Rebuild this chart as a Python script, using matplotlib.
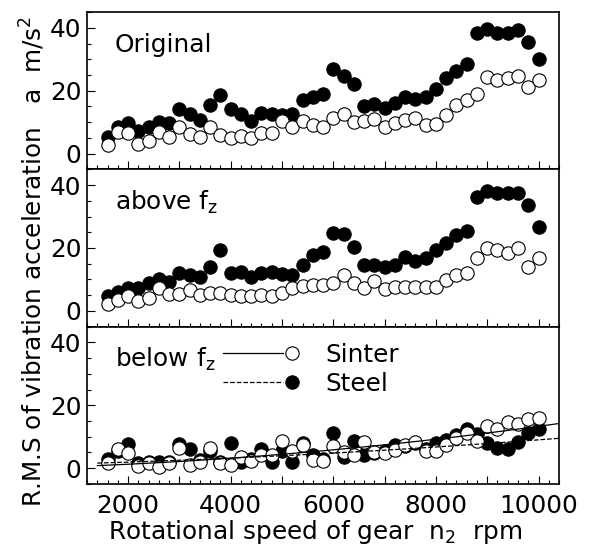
import numpy as np
import matplotlib.pyplot as plt
from matplotlib.ticker import MultipleLocator, FuncFormatter
from matplotlib.lines import Line2D
from matplotlib.legend_handler import HandlerTuple

plt.rcParams['font.family'] = ['DejaVu Sans']
plt.rcParams['mathtext.fontset'] = 'dejavusans'
plt.rcParams['font.size'] = 17.8

# rotational speed n2 [rpm], one point every 200 rpm
speed = np.arange(1600, 10001, 200)

# RMS vibration acceleration [m/s^2]
orig_sinter = [2.8, 6.8, 6.5, 2.9, 4.0, 6.8, 5.4, 8.4, 6.3, 5.2,
               8.6, 6.0, 5.0, 5.7, 5.0, 6.5, 6.5, 10.3, 8.4, 10.3,
               9.0, 8.4, 11.4, 12.7, 10.0, 10.3, 11.1, 8.6, 9.7, 10.8,
               11.4, 9.0, 9.3, 12.2, 15.4, 17.0, 18.9, 24.2, 23.4, 23.9,
               24.6, 21.2, 23.4]
orig_steel = [5.2, 8.6, 9.7, 7.1, 8.6, 10.0, 9.7, 14.3, 12.7, 10.8,
              15.6, 18.6, 14.3, 12.5, 10.3, 12.9, 12.5, 12.2, 12.7, 17.2,
              18.0, 18.8, 26.8, 24.6, 22.1, 15.0, 15.7, 14.6, 16.1, 18.0,
              17.5, 18.0, 20.4, 23.9, 26.3, 28.5, 38.5, 39.6, 38.5, 38.5,
              39.4, 35.6, 30.0]
above_sinter = [2.2, 3.5, 4.8, 3.0, 4.0, 7.2, 5.4, 5.4, 6.5, 5.1,
                5.6, 5.8, 5.1, 4.8, 4.6, 5.1, 4.8, 5.8, 7.2, 7.9,
                8.3, 8.3, 9.0, 11.4, 9.0, 7.2, 9.6, 6.9, 7.7, 7.7,
                7.5, 7.5, 7.5, 9.8, 11.4, 12.2, 16.7, 19.9, 19.4, 18.5,
                19.9, 14.1, 16.7]
above_steel = [4.6, 6.1, 7.2, 7.2, 8.8, 10.1, 9.3, 12.2, 11.4, 10.7,
               14.1, 19.2, 12.0, 12.5, 10.7, 12.0, 12.5, 11.7, 11.4, 14.6,
               17.8, 18.8, 24.7, 24.4, 20.2, 14.6, 14.6, 13.9, 14.6, 17.0,
               15.7, 16.7, 19.2, 21.7, 24.1, 25.5, 36.1, 38.2, 37.6, 37.6,
               37.6, 33.7, 26.6]
below_sinter = [1.6, 6.0, 4.9, 0.8, 1.7, 0.3, 1.6, 6.3, 1.1, 1.9,
                6.5, 1.6, 1.1, 3.7, 2.3, 4.2, 4.2, 8.7, 5.3, 7.4,
                2.6, 2.3, 7.1, 5.0, 4.2, 8.4, 5.0, 4.8, 5.9, 7.4,
                8.4, 5.3, 5.3, 7.4, 9.5, 11.3, 8.7, 13.4, 12.3, 14.7,
                14.0, 15.5, 15.8]
below_steel = [2.9, 5.5, 7.7, 1.5, 2.0, 2.0, 2.0, 7.7, 6.1, 2.5,
               5.5, 2.0, 8.1, 1.8, 3.0, 6.1, 1.8, 5.5, 1.8, 8.1,
               4.2, 3.0, 11.3, 3.6, 8.7, 4.2, 4.9, 5.5, 7.4, 7.0,
               8.0, 6.0, 7.9, 8.9, 10.5, 12.3, 11.0, 8.1, 6.5, 6.1,
               8.4, 11.1, 12.6]

trend_speed = [1400, 4000, 6000, 8000, 10400]
sinter_trend = [0.8, 3.2, 5.8, 9.2, 14.2]
steel_trend = [1.6, 3.2, 4.8, 6.7, 9.5]

panels = [('Original', orig_sinter, orig_steel),
          ('above f$_\\mathrm{z}$', above_sinter, above_steel),
          ('below f$_\\mathrm{z}$', below_sinter, below_steel)]

fig, axes = plt.subplots(3, 1, sharex=True, figsize=(5.9, 5.48), dpi=100)
fig.subplots_adjust(left=0.1475, right=0.9475, bottom=0.117, top=0.978, hspace=0)

mk = dict(ls='none', marker='o', ms=9.6, mec='black', mew=0.8)
for ax, (name, sinter, steel) in zip(axes, panels):
    ax.plot(speed, steel, mfc='black', **mk)
    ax.plot(speed, sinter, mfc='white', **mk)
    ax.text(0.059, 0.745, name, transform=ax.transAxes, va='baseline')
    ax.set_xlim(1200, 10400)
    ax.set_ylim(-5, 45)
    ax.yaxis.set_major_locator(MultipleLocator(20))
    ax.yaxis.set_minor_locator(MultipleLocator(5))
    ax.xaxis.set_major_locator(MultipleLocator(1000))
    ax.xaxis.set_minor_locator(MultipleLocator(200))
    ax.tick_params(which='both', direction='in', top=False, right=False, width=0.8)
    ax.tick_params(which='major', length=5.5)
    ax.tick_params(which='minor', length=3)
    ax.tick_params(axis='y', pad=4)
    ax.tick_params(axis='x', pad=7)
    for s in ax.spines.values():
        s.set_linewidth(1.2)

ax3 = axes[2]
ax3.xaxis.set_major_formatter(FuncFormatter(lambda v, p: '%d' % v if v % 2000 == 0 else ''))

# smooth curves through the trend readings
fit_x = np.linspace(1400, 10400, 200)
for vals, style in [(sinter_trend, 'k-'), (steel_trend, 'k--')]:
    coef = np.polyfit(trend_speed, vals, 2)
    ax3.plot(fit_x, np.polyval(coef, fit_x), style, lw=0.9)

sinter_h = (Line2D([], [], color='k', lw=0.9), Line2D([], [], mfc='white', **mk))
steel_h = (Line2D([], [], color='k', lw=0.9, ls='--'), Line2D([], [], mfc='black', **mk))
ax3.legend([sinter_h, steel_h], ['Sinter', 'Steel'],
           handler_map={tuple: HandlerTuple(ndivide=2, pad=-0.85)},
           loc='center left', bbox_to_anchor=(0.288, 0.73), frameon=False,
           handlelength=4.0, handletextpad=0.16, borderpad=0, borderaxespad=0,
           labelspacing=0.2)

ax3.set_xlabel('Rotational speed of gear  n$_2$  rpm')
ax3.xaxis.set_label_coords(0.483, -0.214)

fig.text(33 / 590, 1 - 261 / 548, 'R.M.S of vibration acceleration   a  m/s$^2$',
         rotation=90, ha='center', va='center')

fig.savefig('out.png', dpi=100)
